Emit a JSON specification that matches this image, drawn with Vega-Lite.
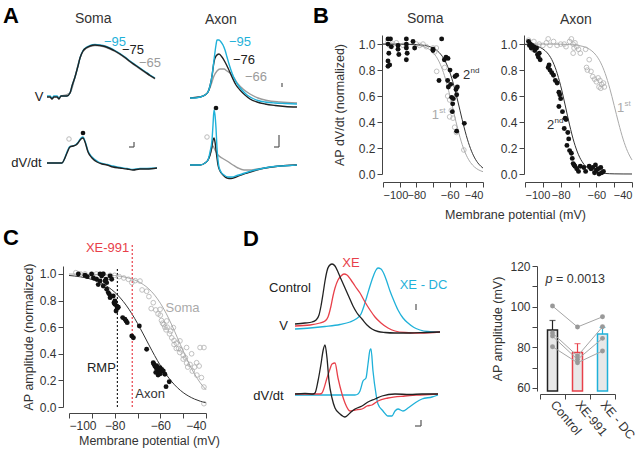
{
"$schema":"https://vega.github.io/schema/vega-lite/v6.json",
"autosize":{"type":"none"},
"padding":{"left":69,"top":35,"right":571,"bottom":417},
"background":"#ffffff",
"config":{
 "font":"Liberation Sans",
 "view":{"stroke":null},
 "axis":{"grid":false,"domainColor":"#444444","tickColor":"#444444","labelColor":"#333333","titleColor":"#333333","labelFontSize":12,"titleFontSize":12.5,"titleFontWeight":"normal","tickSize":5,"labelPadding":2,"labelOverlap":false},
 "title":{"color":"#333333","fontWeight":"normal","fontSize":14,"anchor":"start","frame":"group","baseline":"alphabetic"}
},
"datasets":{
 "aLetter":[{"t":-42,"v":85,"label":"A"}],
 "aSomaV":[
  {"s":"-65","t":16,"v":12},{"s":"-65","t":25,"v":15},{"s":"-65","t":30,"v":31},{"s":"-65","t":35,"v":50},{"s":"-65","t":41,"v":59.5},{"s":"-65","t":50,"v":62.5},{"s":"-65","t":60,"v":61},{"s":"-65","t":70,"v":56.5},{"s":"-65","t":80,"v":50},{"s":"-65","t":90,"v":42.5},{"s":"-65","t":100,"v":35.5},{"s":"-65","t":110,"v":29},
  {"s":"-95","t":2,"v":12},{"s":"-95","t":5,"v":12},{"s":"-95","t":7,"v":10},{"s":"-95","t":9,"v":12},{"s":"-95","t":12,"v":12},{"s":"-95","t":14,"v":10},{"s":"-95","t":16,"v":12},{"s":"-95","t":22,"v":12},{"s":"-95","t":25,"v":15},{"s":"-95","t":27,"v":22},{"s":"-95","t":30,"v":31},{"s":"-95","t":33,"v":42},{"s":"-95","t":35,"v":50},{"s":"-95","t":38,"v":57.5},{"s":"-95","t":41,"v":60.5},{"s":"-95","t":45,"v":62.5},{"s":"-95","t":50,"v":63.5},{"s":"-95","t":55,"v":63},{"s":"-95","t":60,"v":62},{"s":"-95","t":65,"v":60},{"s":"-95","t":70,"v":57.5},{"s":"-95","t":75,"v":54.5},{"s":"-95","t":80,"v":51},{"s":"-95","t":85,"v":47},{"s":"-95","t":90,"v":43.5},{"s":"-95","t":95,"v":40},{"s":"-95","t":100,"v":36.5},{"s":"-95","t":105,"v":33},{"s":"-95","t":110,"v":30},
  {"s":"-75","t":2,"v":11},{"s":"-75","t":5,"v":11},{"s":"-75","t":7,"v":9},{"s":"-75","t":9,"v":11},{"s":"-75","t":12,"v":11},{"s":"-75","t":14,"v":9},{"s":"-75","t":16,"v":12},{"s":"-75","t":22,"v":12},{"s":"-75","t":25,"v":15},{"s":"-75","t":27,"v":22},{"s":"-75","t":30,"v":31},{"s":"-75","t":33,"v":42},{"s":"-75","t":35,"v":50},{"s":"-75","t":38,"v":57},{"s":"-75","t":41,"v":60},{"s":"-75","t":45,"v":62},{"s":"-75","t":50,"v":63},{"s":"-75","t":55,"v":62.5},{"s":"-75","t":60,"v":61.5},{"s":"-75","t":65,"v":59.5},{"s":"-75","t":70,"v":57},{"s":"-75","t":75,"v":54},{"s":"-75","t":80,"v":50.5},{"s":"-75","t":85,"v":46.5},{"s":"-75","t":90,"v":43},{"s":"-75","t":95,"v":39.5},{"s":"-75","t":100,"v":36},{"s":"-75","t":105,"v":32.5},{"s":"-75","t":110,"v":29.5}
 ],
 "aSomaVLab":[{"t":70,"v":66,"label":"−95","s":"-95"},{"t":88,"v":58,"label":"−75","s":"-75"},{"t":105,"v":45,"label":"−65","s":"-65"},{"t":-6,"v":11,"label":"V","s":"k"}],
 "aSomaD":[
  {"s":"-95","t":2,"v":19},{"s":"-95","t":10,"v":19},{"s":"-95","t":17,"v":19},{"s":"-95","t":19,"v":22},{"s":"-95","t":22,"v":30},{"s":"-95","t":25,"v":35.5},{"s":"-95","t":28,"v":36},{"s":"-95","t":31,"v":37.5},{"s":"-95","t":33,"v":39.5},{"s":"-95","t":36,"v":44},{"s":"-95","t":38,"v":45},{"s":"-95","t":40,"v":41},{"s":"-95","t":43,"v":31},{"s":"-95","t":47,"v":25},{"s":"-95","t":52,"v":21},{"s":"-95","t":57,"v":18.5},{"s":"-95","t":62,"v":17.5},{"s":"-95","t":68,"v":16},{"s":"-95","t":75,"v":14.5},{"s":"-95","t":82,"v":13.5},{"s":"-95","t":88,"v":12.5},{"s":"-95","t":95,"v":13.5},{"s":"-95","t":102,"v":13.5},{"s":"-95","t":112,"v":14},
  {"s":"-75","t":2,"v":19},{"s":"-75","t":10,"v":19},{"s":"-75","t":17,"v":19},{"s":"-75","t":19,"v":22},{"s":"-75","t":22,"v":29},{"s":"-75","t":25,"v":35},{"s":"-75","t":28,"v":36},{"s":"-75","t":31,"v":37},{"s":"-75","t":33,"v":39},{"s":"-75","t":36,"v":43},{"s":"-75","t":38,"v":44},{"s":"-75","t":40,"v":40},{"s":"-75","t":43,"v":30},{"s":"-75","t":47,"v":24},{"s":"-75","t":52,"v":20},{"s":"-75","t":57,"v":18},{"s":"-75","t":62,"v":17},{"s":"-75","t":68,"v":15},{"s":"-75","t":75,"v":14},{"s":"-75","t":82,"v":13},{"s":"-75","t":88,"v":12},{"s":"-75","t":95,"v":13},{"s":"-75","t":102,"v":13},{"s":"-75","t":112,"v":14}
 ],
 "aSomaDLab":[{"t":-18.5,"v":19,"label":"dV/dt","s":"k"}],
 "aSomaMk":[{"t":24,"v":43,"k":"1st"},{"t":38,"v":49,"k":"2nd"}],
 "aSomaBar":[{"t1":89,"t2":89,"v1":35,"v2":40},{"t1":84,"t2":89,"v1":35,"v2":35}],
 "aAxonV":[
  {"s":"-66","t":5,"v":10},{"s":"-66","t":15,"v":11},{"s":"-66","t":20,"v":13},{"s":"-66","t":23,"v":16},{"s":"-66","t":26,"v":23},{"s":"-66","t":29,"v":32},{"s":"-66","t":32,"v":37},{"s":"-66","t":35,"v":39},{"s":"-66","t":39,"v":39},{"s":"-66","t":42,"v":37},{"s":"-66","t":45,"v":35},{"s":"-66","t":49,"v":30},{"s":"-66","t":53,"v":24},{"s":"-66","t":58,"v":19},{"s":"-66","t":65,"v":14},{"s":"-66","t":73,"v":10},{"s":"-66","t":82,"v":7.5},{"s":"-66","t":95,"v":6},{"s":"-66","t":112,"v":5},
  {"s":"-76","t":5,"v":10},{"s":"-76","t":15,"v":11},{"s":"-76","t":20,"v":13},{"s":"-76","t":23,"v":16},{"s":"-76","t":25,"v":22},{"s":"-76","t":27,"v":32},{"s":"-76","t":29,"v":46},{"s":"-76","t":31,"v":52},{"s":"-76","t":34,"v":54},{"s":"-76","t":37,"v":51},{"s":"-76","t":40,"v":46},{"s":"-76","t":43,"v":40},{"s":"-76","t":47,"v":31},{"s":"-76","t":51,"v":23},{"s":"-76","t":55,"v":18},{"s":"-76","t":60,"v":13},{"s":"-76","t":65,"v":9},{"s":"-76","t":72,"v":6},{"s":"-76","t":80,"v":4},{"s":"-76","t":90,"v":2.5},{"s":"-76","t":100,"v":1.5},{"s":"-76","t":112,"v":1},
  {"s":"-95","t":5,"v":10},{"s":"-95","t":10,"v":10},{"s":"-95","t":15,"v":11},{"s":"-95","t":20,"v":13},{"s":"-95","t":23,"v":16},{"s":"-95","t":25,"v":22},{"s":"-95","t":27,"v":32},{"s":"-95","t":29,"v":48},{"s":"-95","t":31,"v":63},{"s":"-95","t":32,"v":68},{"s":"-95","t":34,"v":68},{"s":"-95","t":36,"v":66},{"s":"-95","t":38,"v":63},{"s":"-95","t":40,"v":58},{"s":"-95","t":42,"v":51},{"s":"-95","t":44,"v":44},{"s":"-95","t":47,"v":35},{"s":"-95","t":50,"v":28},{"s":"-95","t":53,"v":23},{"s":"-95","t":57,"v":18},{"s":"-95","t":62,"v":13},{"s":"-95","t":67,"v":10},{"s":"-95","t":73,"v":7.5},{"s":"-95","t":80,"v":6},{"s":"-95","t":90,"v":5},{"s":"-95","t":100,"v":4.5},{"s":"-95","t":112,"v":4}
 ],
 "aAxonVLab":[{"t":55,"v":66,"label":"−95","s":"-95"},{"t":59,"v":48,"label":"−76","s":"-76"},{"t":71,"v":31,"label":"−66","s":"-66"}],
 "aAxonVBar":[{"t1":97,"t2":97,"v1":21,"v2":25}],
 "aAxonD":[
  {"s":"-66","t":5,"v":17},{"s":"-66","t":15,"v":17},{"s":"-66","t":20,"v":19},{"s":"-66","t":23,"v":22},{"s":"-66","t":25,"v":27},{"s":"-66","t":27,"v":34},{"s":"-66","t":28,"v":36},{"s":"-66","t":30,"v":32},{"s":"-66","t":33,"v":27},{"s":"-66","t":37,"v":24},{"s":"-66","t":42,"v":21},{"s":"-66","t":48,"v":17},{"s":"-66","t":53,"v":14},{"s":"-66","t":59,"v":12},{"s":"-66","t":65,"v":12},{"s":"-66","t":72,"v":13},{"s":"-66","t":80,"v":14},{"s":"-66","t":95,"v":16},{"s":"-66","t":112,"v":17},
  {"s":"-76","t":5,"v":17},{"s":"-76","t":15,"v":17},{"s":"-76","t":20,"v":19},{"s":"-76","t":23,"v":22},{"s":"-76","t":25,"v":27},{"s":"-76","t":27,"v":36},{"s":"-76","t":28,"v":42},{"s":"-76","t":29,"v":44},{"s":"-76","t":30,"v":40},{"s":"-76","t":31,"v":32},{"s":"-76","t":32,"v":24},{"s":"-76","t":33,"v":17},{"s":"-76","t":35,"v":11},{"s":"-76","t":38,"v":7},{"s":"-76","t":42,"v":4},{"s":"-76","t":46,"v":3.5},{"s":"-76","t":51,"v":5},{"s":"-76","t":56,"v":7},{"s":"-76","t":62,"v":9},{"s":"-76","t":70,"v":11.5},{"s":"-76","t":80,"v":14},{"s":"-76","t":95,"v":16},{"s":"-76","t":112,"v":17},
  {"s":"-95","t":5,"v":17},{"s":"-95","t":15,"v":17},{"s":"-95","t":20,"v":19},{"s":"-95","t":23,"v":22},{"s":"-95","t":25,"v":30},{"s":"-95","t":27,"v":42},{"s":"-95","t":28,"v":57},{"s":"-95","t":29,"v":72},{"s":"-95","t":30,"v":67},{"s":"-95","t":31,"v":54},{"s":"-95","t":32,"v":34},{"s":"-95","t":33,"v":22},{"s":"-95","t":34,"v":15},{"s":"-95","t":36,"v":10},{"s":"-95","t":39,"v":7},{"s":"-95","t":43,"v":5},{"s":"-95","t":47,"v":5},{"s":"-95","t":52,"v":6.5},{"s":"-95","t":57,"v":8},{"s":"-95","t":63,"v":10},{"s":"-95","t":70,"v":12},{"s":"-95","t":77,"v":13.5},{"s":"-95","t":85,"v":15},{"s":"-95","t":95,"v":16},{"s":"-95","t":105,"v":16.5},{"s":"-95","t":112,"v":17}
 ],
 "aAxonMk":[{"t":22,"v":45,"k":"1st"},{"t":31,"v":74,"k":"2nd"}],
 "aAxonDBar":[{"t1":94,"t2":94,"v1":35,"v2":47},{"t1":89,"t2":94,"v1":35,"v2":35}],
 "bSomaFit":[
  {"s":"1st","mv":-100,"r":1.0},{"s":"1st","mv":-95,"r":0.9997},{"s":"1st","mv":-90,"r":0.9992},{"s":"1st","mv":-85,"r":0.9975},{"s":"1st","mv":-80,"r":0.9925},{"s":"1st","mv":-77.5,"r":0.987},{"s":"1st","mv":-75,"r":0.9777},{"s":"1st","mv":-72.5,"r":0.9617},{"s":"1st","mv":-70,"r":0.935},{"s":"1st","mv":-67.5,"r":0.892},{"s":"1st","mv":-65,"r":0.8258},{"s":"1st","mv":-62.5,"r":0.7311},{"s":"1st","mv":-60,"r":0.6093},{"s":"1st","mv":-57.5,"r":0.4722},{"s":"1st","mv":-55,"r":0.3392},{"s":"1st","mv":-52.5,"r":0.2275},{"s":"1st","mv":-50,"r":0.1446},{"s":"1st","mv":-47.5,"r":0.0884},{"s":"1st","mv":-45,"r":0.0527},{"s":"1st","mv":-42.5,"r":0.0309},{"s":"1st","mv":-40,"r":0.018},
  {"s":"2nd","mv":-100,"r":1.0},{"s":"2nd","mv":-95,"r":0.9999},{"s":"2nd","mv":-90,"r":0.9996},{"s":"2nd","mv":-85,"r":0.9988},{"s":"2nd","mv":-80,"r":0.9965},{"s":"2nd","mv":-77.5,"r":0.994},{"s":"2nd","mv":-75,"r":0.9897},{"s":"2nd","mv":-72.5,"r":0.9824},{"s":"2nd","mv":-70,"r":0.97},{"s":"2nd","mv":-67.5,"r":0.9496},{"s":"2nd","mv":-65,"r":0.916},{"s":"2nd","mv":-62.5,"r":0.8639},{"s":"2nd","mv":-60,"r":0.7866},{"s":"2nd","mv":-57.5,"r":0.6815},{"s":"2nd","mv":-55,"r":0.554},{"s":"2nd","mv":-52.5,"r":0.419},{"s":"2nd","mv":-50,"r":0.2953},{"s":"2nd","mv":-47.5,"r":0.1958},{"s":"2nd","mv":-45,"r":0.1238},{"s":"2nd","mv":-42.5,"r":0.0759},{"s":"2nd","mv":-40,"r":0.0455}
 ],
 "bSomaPts":[
  {"k":"1st","mv":-97,"r":1.02},{"k":"1st","mv":-96,"r":0.99},{"k":"1st","mv":-94,"r":1.0},{"k":"1st","mv":-92,"r":1.01},{"k":"1st","mv":-88,"r":0.99},{"k":"1st","mv":-86,"r":0.98},{"k":"1st","mv":-80,"r":1.0},{"k":"1st","mv":-78,"r":0.99},{"k":"1st","mv":-76,"r":1.0},{"k":"1st","mv":-74,"r":0.98},{"k":"1st","mv":-70,"r":0.97},{"k":"1st","mv":-69,"r":0.94},{"k":"1st","mv":-68,"r":0.97},{"k":"1st","mv":-67.8,"r":0.79},{"k":"1st","mv":-63,"r":0.82},{"k":"1st","mv":-61.2,"r":0.6},{"k":"1st","mv":-60,"r":0.57},{"k":"1st","mv":-59,"r":0.49},{"k":"1st","mv":-60,"r":0.44},{"k":"1st","mv":-58,"r":0.43},{"k":"1st","mv":-57,"r":0.36},{"k":"1st","mv":-56,"r":0.32},{"k":"1st","mv":-51.5,"r":0.185},
  {"k":"2nd","mv":-97,"r":1.04},{"k":"2nd","mv":-97,"r":1.0},{"k":"2nd","mv":-96.5,"r":0.93},{"k":"2nd","mv":-97,"r":0.87},{"k":"2nd","mv":-97,"r":0.83},{"k":"2nd","mv":-96,"r":0.84},{"k":"2nd","mv":-95.5,"r":1.04},{"k":"2nd","mv":-95,"r":0.98},{"k":"2nd","mv":-91,"r":0.99},{"k":"2nd","mv":-91,"r":0.96},{"k":"2nd","mv":-90.5,"r":0.92},{"k":"2nd","mv":-86,"r":1.04},{"k":"2nd","mv":-86,"r":1.0},{"k":"2nd","mv":-86,"r":0.97},{"k":"2nd","mv":-85.5,"r":0.93},{"k":"2nd","mv":-86,"r":0.88},{"k":"2nd","mv":-82,"r":1.02},{"k":"2nd","mv":-81,"r":0.97},{"k":"2nd","mv":-70,"r":0.96},{"k":"2nd","mv":-70,"r":0.95},{"k":"2nd","mv":-64.8,"r":1.04},{"k":"2nd","mv":-66.4,"r":0.72},{"k":"2nd","mv":-63.2,"r":0.88},{"k":"2nd","mv":-62.2,"r":0.9},{"k":"2nd","mv":-61,"r":0.89},{"k":"2nd","mv":-61.2,"r":0.72},{"k":"2nd","mv":-59.8,"r":0.8},{"k":"2nd","mv":-60.8,"r":0.67},{"k":"2nd","mv":-59.4,"r":0.69},{"k":"2nd","mv":-58.8,"r":0.59},{"k":"2nd","mv":-57.8,"r":0.58},{"k":"2nd","mv":-58.4,"r":0.48},{"k":"2nd","mv":-58.2,"r":0.54},{"k":"2nd","mv":-56.8,"r":0.75},{"k":"2nd","mv":-55.8,"r":0.76},{"k":"2nd","mv":-56.2,"r":0.65},{"k":"2nd","mv":-55.8,"r":0.61},{"k":"2nd","mv":-55.4,"r":0.67},{"k":"2nd","mv":-55.8,"r":0.33},{"k":"2nd","mv":-51.2,"r":0.39}
 ],
 "bSomaLab":[{"mv":-52,"r":0.76,"n":"2","sup":"nd","s":"2nd"},{"mv":-70.8,"r":0.454,"n":"1","sup":"st","s":"1st"}],
 "bLetter":[{"mv":-142,"r":1.1615,"label":"B"}],
 "bAxonFit":[
  {"s":"1st","mv":-100,"r":1.0},{"s":"1st","mv":-90,"r":0.9999},{"s":"1st","mv":-85,"r":0.9996},{"s":"1st","mv":-80,"r":0.9989},{"s":"1st","mv":-77.5,"r":0.998},{"s":"1st","mv":-75,"r":0.9966},{"s":"1st","mv":-72.5,"r":0.994},{"s":"1st","mv":-70,"r":0.9896},{"s":"1st","mv":-67.5,"r":0.982},{"s":"1st","mv":-65,"r":0.9691},{"s":"1st","mv":-62.5,"r":0.9473},{"s":"1st","mv":-60,"r":0.9116},{"s":"1st","mv":-57.5,"r":0.8554},{"s":"1st","mv":-55,"r":0.7725},{"s":"1st","mv":-52.5,"r":0.6608},{"s":"1st","mv":-50,"r":0.5278},{"s":"1st","mv":-47.5,"r":0.3907},{"s":"1st","mv":-45,"r":0.2689},{"s":"1st","mv":-42.5,"r":0.1742},{"s":"1st","mv":-40,"r":0.108},
  {"s":"2nd","mv":-100,"r":0.9968},{"s":"2nd","mv":-97.5,"r":0.9941},{"s":"2nd","mv":-95,"r":0.989},{"s":"2nd","mv":-92.5,"r":0.9797},{"s":"2nd","mv":-90,"r":0.9627},{"s":"2nd","mv":-87.5,"r":0.9324},{"s":"2nd","mv":-85,"r":0.8808},{"s":"2nd","mv":-82.5,"r":0.7982},{"s":"2nd","mv":-80,"r":0.6792},{"s":"2nd","mv":-77.5,"r":0.5312},{"s":"2nd","mv":-75,"r":0.3775},{"s":"2nd","mv":-72.5,"r":0.2451},{"s":"2nd","mv":-70,"r":0.148},{"s":"2nd","mv":-67.5,"r":0.085},{"s":"2nd","mv":-65,"r":0.0474},{"s":"2nd","mv":-62.5,"r":0.026},{"s":"2nd","mv":-60,"r":0.0141},{"s":"2nd","mv":-55,"r":0.0041},{"s":"2nd","mv":-50,"r":0.0012},{"s":"2nd","mv":-45,"r":0.0003},{"s":"2nd","mv":-40,"r":0.0001}
 ],
 "bAxonPts":[
  {"k":"1st","mv":-98,"r":1.03},{"k":"1st","mv":-97,"r":0.99},{"k":"1st","mv":-95.5,"r":0.96},{"k":"1st","mv":-95,"r":1.02},{"k":"1st","mv":-92,"r":1.0},{"k":"1st","mv":-90,"r":0.99},{"k":"1st","mv":-88,"r":1.01},{"k":"1st","mv":-87,"r":1.04},{"k":"1st","mv":-86,"r":0.99},{"k":"1st","mv":-84,"r":1.02},{"k":"1st","mv":-82,"r":0.99},{"k":"1st","mv":-80,"r":1.0},{"k":"1st","mv":-78,"r":1.0},{"k":"1st","mv":-77,"r":0.98},{"k":"1st","mv":-75,"r":1.02},{"k":"1st","mv":-74,"r":1.04},{"k":"1st","mv":-73,"r":1.0},{"k":"1st","mv":-72.5,"r":0.97},{"k":"1st","mv":-72,"r":1.01},{"k":"1st","mv":-71,"r":0.98},{"k":"1st","mv":-70,"r":0.96},{"k":"1st","mv":-69,"r":0.93},{"k":"1st","mv":-73,"r":0.93},{"k":"1st","mv":-66,"r":0.96},{"k":"1st","mv":-64,"r":0.88},{"k":"1st","mv":-65.5,"r":0.82},{"k":"1st","mv":-65,"r":0.8},{"k":"1st","mv":-63,"r":0.79},{"k":"1st","mv":-62,"r":0.75},{"k":"1st","mv":-61,"r":0.73},{"k":"1st","mv":-60,"r":0.71},{"k":"1st","mv":-59,"r":0.74},{"k":"1st","mv":-58,"r":0.72},{"k":"1st","mv":-57,"r":0.69},{"k":"1st","mv":-58.5,"r":0.67},{"k":"1st","mv":-57.5,"r":0.66},{"k":"1st","mv":-56,"r":0.7},{"k":"1st","mv":-55.5,"r":0.67},
  {"k":"2nd","mv":-98,"r":1.02},{"k":"2nd","mv":-97.5,"r":0.99},{"k":"2nd","mv":-97,"r":1.0},{"k":"2nd","mv":-96.5,"r":0.97},{"k":"2nd","mv":-96,"r":0.99},{"k":"2nd","mv":-95,"r":0.98},{"k":"2nd","mv":-94.5,"r":0.95},{"k":"2nd","mv":-93.5,"r":0.97},{"k":"2nd","mv":-93,"r":0.92},{"k":"2nd","mv":-92,"r":0.93},{"k":"2nd","mv":-91.5,"r":0.88},{"k":"2nd","mv":-92.5,"r":0.9},{"k":"2nd","mv":-87,"r":0.82},{"k":"2nd","mv":-86.5,"r":0.84},{"k":"2nd","mv":-86,"r":0.8},{"k":"2nd","mv":-85,"r":0.78},{"k":"2nd","mv":-84,"r":0.76},{"k":"2nd","mv":-83,"r":0.72},{"k":"2nd","mv":-82,"r":0.7},{"k":"2nd","mv":-81,"r":0.63},{"k":"2nd","mv":-80.5,"r":0.61},{"k":"2nd","mv":-80,"r":0.58},{"k":"2nd","mv":-81,"r":0.52},{"k":"2nd","mv":-79,"r":0.48},{"k":"2nd","mv":-77.5,"r":0.43},{"k":"2nd","mv":-77,"r":0.42},{"k":"2nd","mv":-78,"r":0.35},{"k":"2nd","mv":-76,"r":0.32},{"k":"2nd","mv":-75.5,"r":0.27},{"k":"2nd","mv":-76.5,"r":0.22},{"k":"2nd","mv":-75,"r":0.18},{"k":"2nd","mv":-74,"r":0.16},{"k":"2nd","mv":-73.5,"r":0.12},{"k":"2nd","mv":-73,"r":0.08},{"k":"2nd","mv":-72.5,"r":0.07},{"k":"2nd","mv":-72,"r":0.06},{"k":"2nd","mv":-71,"r":0.04},{"k":"2nd","mv":-70,"r":0.02},{"k":"2nd","mv":-69,"r":0.06},{"k":"2nd","mv":-67,"r":0.05},{"k":"2nd","mv":-66,"r":0.02},{"k":"2nd","mv":-64,"r":0.06},{"k":"2nd","mv":-63,"r":0.04},{"k":"2nd","mv":-62,"r":0.05},{"k":"2nd","mv":-61,"r":0.01},{"k":"2nd","mv":-60,"r":0.03},{"k":"2nd","mv":-59,"r":0.04},{"k":"2nd","mv":-58.5,"r":0.0},{"k":"2nd","mv":-57,"r":0.01},{"k":"2nd","mv":-56,"r":0.02},{"k":"2nd","mv":-57.5,"r":0.05},{"k":"2nd","mv":-60.5,"r":0.07}
 ],
 "bAxonLab":[{"mv":-87.7,"r":0.377,"n":"2","sup":"nd","s":"2nd"},{"mv":-48.4,"r":0.508,"n":"1","sup":"st","s":"1st"}],
 "cFit":[
  {"s":"Soma","mv":-100,"r":0.9995},{"s":"Soma","mv":-95,"r":0.9989},{"s":"Soma","mv":-90,"r":0.9976},{"s":"Soma","mv":-85,"r":0.9947},{"s":"Soma","mv":-80,"r":0.9884},{"s":"Soma","mv":-77.5,"r":0.9828},{"s":"Soma","mv":-75,"r":0.9747},{"s":"Soma","mv":-72.5,"r":0.9628},{"s":"Soma","mv":-70,"r":0.9457},{"s":"Soma","mv":-67.5,"r":0.9213},{"s":"Soma","mv":-65,"r":0.8873},{"s":"Soma","mv":-62.5,"r":0.8411},{"s":"Soma","mv":-60,"r":0.7807},{"s":"Soma","mv":-57.5,"r":0.7054},{"s":"Soma","mv":-55,"r":0.6168},{"s":"Soma","mv":-52.5,"r":0.5198},{"s":"Soma","mv":-50,"r":0.4214},{"s":"Soma","mv":-47.5,"r":0.3287},{"s":"Soma","mv":-45,"r":0.2477},{"s":"Soma","mv":-42.5,"r":0.1812},{"s":"Soma","mv":-40,"r":0.1296},
  {"s":"Axon","mv":-100,"r":0.9887},{"s":"Axon","mv":-95,"r":0.9785},{"s":"Axon","mv":-90,"r":0.9593},{"s":"Axon","mv":-87.5,"r":0.9442},{"s":"Axon","mv":-85,"r":0.9241},{"s":"Axon","mv":-82.5,"r":0.8976},{"s":"Axon","mv":-80,"r":0.8632},{"s":"Axon","mv":-77.5,"r":0.8195},{"s":"Axon","mv":-75,"r":0.7657},{"s":"Axon","mv":-72.5,"r":0.7016},{"s":"Axon","mv":-70,"r":0.6286},{"s":"Axon","mv":-67.5,"r":0.5491},{"s":"Axon","mv":-65,"r":0.467},{"s":"Axon","mv":-62.5,"r":0.3868},{"s":"Axon","mv":-60,"r":0.3123},{"s":"Axon","mv":-57.5,"r":0.2463},{"s":"Axon","mv":-55,"r":0.1905},{"s":"Axon","mv":-52.5,"r":0.1448},{"s":"Axon","mv":-50,"r":0.1086},{"s":"Axon","mv":-47.5,"r":0.0807},{"s":"Axon","mv":-45,"r":0.0594},{"s":"Axon","mv":-42.5,"r":0.0434},{"s":"Axon","mv":-40,"r":0.0316}
 ],
 "cPts":[
  {"k":"Soma","mv":-97,"r":1.01},{"k":"Soma","mv":-95,"r":1.0},{"k":"Soma","mv":-93,"r":1.0},{"k":"Soma","mv":-90,"r":0.99},{"k":"Soma","mv":-88,"r":1.0},{"k":"Soma","mv":-85,"r":1.0},{"k":"Soma","mv":-82,"r":0.99},{"k":"Soma","mv":-80,"r":0.99},{"k":"Soma","mv":-78,"r":0.98},{"k":"Soma","mv":-76,"r":0.97},{"k":"Soma","mv":-74,"r":0.96},{"k":"Soma","mv":-72.5,"r":0.935},{"k":"Soma","mv":-71,"r":0.95},{"k":"Soma","mv":-68.9,"r":0.947},{"k":"Soma","mv":-68,"r":0.88},{"k":"Soma","mv":-66,"r":0.87},{"k":"Soma","mv":-65,"r":0.83},{"k":"Soma","mv":-64,"r":0.74},{"k":"Soma","mv":-63.1,"r":0.784},{"k":"Soma","mv":-62,"r":0.73},{"k":"Soma","mv":-61,"r":0.7},{"k":"Soma","mv":-60.1,"r":0.734},{"k":"Soma","mv":-60,"r":0.69},{"k":"Soma","mv":-59.5,"r":0.65},{"k":"Soma","mv":-59,"r":0.63},{"k":"Soma","mv":-58.5,"r":0.62},{"k":"Soma","mv":-58,"r":0.6},{"k":"Soma","mv":-57.2,"r":0.647},{"k":"Soma","mv":-57.5,"r":0.58},{"k":"Soma","mv":-57,"r":0.6},{"k":"Soma","mv":-56,"r":0.55},{"k":"Soma","mv":-55.5,"r":0.57},{"k":"Soma","mv":-55,"r":0.52},{"k":"Soma","mv":-54.3,"r":0.597},{"k":"Soma","mv":-54,"r":0.5},{"k":"Soma","mv":-54,"r":0.47},{"k":"Soma","mv":-53,"r":0.48},{"k":"Soma","mv":-53,"r":0.44},{"k":"Soma","mv":-52,"r":0.44},{"k":"Soma","mv":-51.4,"r":0.497},{"k":"Soma","mv":-51.5,"r":0.41},{"k":"Soma","mv":-51,"r":0.43},{"k":"Soma","mv":-50,"r":0.39},{"k":"Soma","mv":-50,"r":0.36},{"k":"Soma","mv":-49,"r":0.37},{"k":"Soma","mv":-48.5,"r":0.447},{"k":"Soma","mv":-48.5,"r":0.33},{"k":"Soma","mv":-48,"r":0.3},{"k":"Soma","mv":-47,"r":0.32},{"k":"Soma","mv":-46.3,"r":0.4},{"k":"Soma","mv":-46,"r":0.27},{"k":"Soma","mv":-45,"r":0.3},{"k":"Soma","mv":-44.1,"r":0.333},{"k":"Soma","mv":-44,"r":0.24},{"k":"Soma","mv":-42.6,"r":0.447},{"k":"Soma","mv":-40.9,"r":0.447},{"k":"Soma","mv":-43,"r":0.308},{"k":"Soma","mv":-42,"r":0.221},{"k":"Soma","mv":-40.9,"r":0.15},{"k":"Soma","mv":-40.9,"r":0.025},
  {"k":"Axon","mv":-95.9,"r":1.0},{"k":"Axon","mv":-93,"r":0.99},{"k":"Axon","mv":-92,"r":0.98},{"k":"Axon","mv":-90.1,"r":1.0},{"k":"Axon","mv":-89.3,"r":0.97},{"k":"Axon","mv":-87.9,"r":0.96},{"k":"Axon","mv":-86.4,"r":1.0},{"k":"Axon","mv":-85.7,"r":0.985},{"k":"Axon","mv":-85,"r":1.0},{"k":"Axon","mv":-83.8,"r":0.96},{"k":"Axon","mv":-83.5,"r":0.935},{"k":"Axon","mv":-87.2,"r":0.92},{"k":"Axon","mv":-86.4,"r":0.947},{"k":"Axon","mv":-85,"r":0.91},{"k":"Axon","mv":-83.5,"r":0.885},{"k":"Axon","mv":-82.8,"r":0.86},{"k":"Axon","mv":-82.3,"r":0.847},{"k":"Axon","mv":-82,"r":0.822},{"k":"Axon","mv":-80.6,"r":0.835},{"k":"Axon","mv":-80.3,"r":0.784},{"k":"Axon","mv":-79.9,"r":0.772},{"k":"Axon","mv":-79.1,"r":0.759},{"k":"Axon","mv":-78.8,"r":0.742},{"k":"Axon","mv":-79.9,"r":0.797},{"k":"Axon","mv":-78.4,"r":0.75},{"k":"Axon","mv":-84.2,"r":0.947},{"k":"Axon","mv":-82,"r":0.985},{"k":"Axon","mv":-81.3,"r":0.96},{"k":"Axon","mv":-79.4,"r":0.722},{"k":"Axon","mv":-76.5,"r":0.672},{"k":"Axon","mv":-75,"r":0.647},{"k":"Axon","mv":-74.5,"r":0.634},{"k":"Axon","mv":-75.5,"r":0.66},{"k":"Axon","mv":-72.5,"r":0.534},{"k":"Axon","mv":-71.8,"r":0.521},{"k":"Axon","mv":-69.2,"r":0.609},{"k":"Axon","mv":-66,"r":0.434},{"k":"Axon","mv":-63.1,"r":0.333},{"k":"Axon","mv":-62.8,"r":0.321},{"k":"Axon","mv":-62.4,"r":0.308},{"k":"Axon","mv":-61.9,"r":0.296},{"k":"Axon","mv":-61.6,"r":0.31},{"k":"Axon","mv":-61.3,"r":0.283},{"k":"Axon","mv":-60.9,"r":0.271},{"k":"Axon","mv":-60.4,"r":0.258},{"k":"Axon","mv":-60.1,"r":0.296},{"k":"Axon","mv":-59.4,"r":0.283},{"k":"Axon","mv":-58.7,"r":0.271},{"k":"Axon","mv":-58,"r":0.246},{"k":"Axon","mv":-62,"r":0.26},{"k":"Axon","mv":-61,"r":0.24},{"k":"Axon","mv":-60,"r":0.25},{"k":"Axon","mv":-57.5,"r":0.153},{"k":"Axon","mv":-56.1,"r":0.19}
 ],
 "cLines":[{"mv":-78.8,"y1":0,"y2":1.04,"s":"RMP"},{"mv":-72.3,"y1":0,"y2":1.23,"s":"XE-991"}],
 "cLabs":[{"mv":-83.1,"r":1.195,"label":"XE-991","s":"XE-991"},{"mv":-85.8,"r":0.29,"label":"RMP","s":"RMP"},{"mv":-50.3,"r":0.744,"label":"Soma","s":"Soma"},{"mv":-64.5,"r":0.098,"label":"Axon","s":"Axon"}],
 "dV":[
  {"s":"XE - DC","t":5,"v":7},{"s":"XE - DC","t":20,"v":8},{"s":"XE - DC","t":35,"v":9.5},{"s":"XE - DC","t":50,"v":11.5},{"s":"XE - DC","t":60,"v":14},{"s":"XE - DC","t":66,"v":17},{"s":"XE - DC","t":71,"v":22},{"s":"XE - DC","t":74,"v":30},{"s":"XE - DC","t":77,"v":40},{"s":"XE - DC","t":80,"v":50},{"s":"XE - DC","t":83,"v":59},{"s":"XE - DC","t":86,"v":66},{"s":"XE - DC","t":88,"v":68},{"s":"XE - DC","t":91,"v":67},{"s":"XE - DC","t":94,"v":62},{"s":"XE - DC","t":97,"v":54},{"s":"XE - DC","t":100,"v":45},{"s":"XE - DC","t":104,"v":35},{"s":"XE - DC","t":108,"v":26},{"s":"XE - DC","t":113,"v":18},{"s":"XE - DC","t":118,"v":13},{"s":"XE - DC","t":124,"v":8.5},{"s":"XE - DC","t":130,"v":6},{"s":"XE - DC","t":138,"v":4.5},{"s":"XE - DC","t":150,"v":4},
  {"s":"XE","t":5,"v":10},{"s":"XE","t":20,"v":11},{"s":"XE","t":30,"v":13},{"s":"XE","t":35,"v":15},{"s":"XE","t":38,"v":19},{"s":"XE","t":41,"v":30},{"s":"XE","t":43,"v":40},{"s":"XE","t":45,"v":48},{"s":"XE","t":48,"v":56},{"s":"XE","t":51,"v":60},{"s":"XE","t":54,"v":62},{"s":"XE","t":57,"v":61},{"s":"XE","t":61,"v":56},{"s":"XE","t":65,"v":50},{"s":"XE","t":70,"v":43},{"s":"XE","t":75,"v":34},{"s":"XE","t":80,"v":26},{"s":"XE","t":85,"v":19},{"s":"XE","t":91,"v":13},{"s":"XE","t":98,"v":8},{"s":"XE","t":105,"v":5},{"s":"XE","t":115,"v":3.5},{"s":"XE","t":130,"v":3},{"s":"XE","t":150,"v":4},
  {"s":"Control","t":5,"v":12},{"s":"Control","t":15,"v":13},{"s":"Control","t":22,"v":14},{"s":"Control","t":26,"v":16},{"s":"Control","t":29,"v":21},{"s":"Control","t":31,"v":30},{"s":"Control","t":33,"v":42},{"s":"Control","t":35,"v":55},{"s":"Control","t":37,"v":65},{"s":"Control","t":39,"v":70},{"s":"Control","t":42,"v":72},{"s":"Control","t":45,"v":70},{"s":"Control","t":48,"v":64},{"s":"Control","t":51,"v":57},{"s":"Control","t":55,"v":48},{"s":"Control","t":59,"v":39},{"s":"Control","t":63,"v":30},{"s":"Control","t":67,"v":23},{"s":"Control","t":72,"v":17},{"s":"Control","t":77,"v":11},{"s":"Control","t":82,"v":7},{"s":"Control","t":88,"v":4.5},{"s":"Control","t":95,"v":3.5},{"s":"Control","t":105,"v":3},{"s":"Control","t":120,"v":3},{"s":"Control","t":135,"v":3.5},{"s":"Control","t":150,"v":4}
 ],
 "dVLab":[{"t":0,"v":48,"label":"Control","s":"k"},{"t":-6.5,"v":10,"label":"V","s":"k"},{"t":61,"v":73,"label":"XE","s":"XE"},{"t":133.5,"v":51,"label":"XE - DC","s":"XE - DC"}],
 "dVBar":[{"t1":126,"t2":126,"v1":26,"v2":32}],
 "dD":[
  {"s":"XE - DC","t":5,"v":36},{"s":"XE - DC","t":40,"v":36},{"s":"XE - DC","t":65,"v":36},{"s":"XE - DC","t":68,"v":37},{"s":"XE - DC","t":70,"v":40},{"s":"XE - DC","t":73,"v":50},{"s":"XE - DC","t":76,"v":53},{"s":"XE - DC","t":78,"v":67},{"s":"XE - DC","t":80,"v":81},{"s":"XE - DC","t":81,"v":82},{"s":"XE - DC","t":83,"v":60},{"s":"XE - DC","t":86,"v":37},{"s":"XE - DC","t":88,"v":27},{"s":"XE - DC","t":93,"v":20},{"s":"XE - DC","t":98,"v":15},{"s":"XE - DC","t":102,"v":15},{"s":"XE - DC","t":105,"v":20},{"s":"XE - DC","t":108,"v":22},{"s":"XE - DC","t":113,"v":20},{"s":"XE - DC","t":118,"v":23},{"s":"XE - DC","t":125,"v":28},{"s":"XE - DC","t":132,"v":32},{"s":"XE - DC","t":142,"v":34},{"s":"XE - DC","t":148,"v":36},
  {"s":"XE","t":5,"v":37},{"s":"XE","t":30,"v":37},{"s":"XE","t":32,"v":38},{"s":"XE","t":33,"v":40},{"s":"XE","t":37,"v":53},{"s":"XE","t":40,"v":62},{"s":"XE","t":42,"v":67},{"s":"XE","t":45,"v":68},{"s":"XE","t":48,"v":53},{"s":"XE","t":52,"v":37},{"s":"XE","t":55,"v":28},{"s":"XE","t":60,"v":20},{"s":"XE","t":65,"v":21},{"s":"XE","t":72,"v":22},{"s":"XE","t":77,"v":25},{"s":"XE","t":82,"v":26},{"s":"XE","t":88,"v":30},{"s":"XE","t":98,"v":33},{"s":"XE","t":115,"v":35},{"s":"XE","t":130,"v":36},{"s":"XE","t":148,"v":37},
  {"s":"Control","t":5,"v":37},{"s":"Control","t":15,"v":37.5},{"s":"Control","t":23,"v":37},{"s":"Control","t":25,"v":38},{"s":"Control","t":28,"v":50},{"s":"Control","t":31,"v":67},{"s":"Control","t":33,"v":80},{"s":"Control","t":35,"v":86},{"s":"Control","t":37,"v":73},{"s":"Control","t":39,"v":50},{"s":"Control","t":42,"v":33},{"s":"Control","t":45,"v":23},{"s":"Control","t":50,"v":17},{"s":"Control","t":55,"v":14},{"s":"Control","t":60,"v":18},{"s":"Control","t":65,"v":22},{"s":"Control","t":72,"v":25},{"s":"Control","t":78,"v":29},{"s":"Control","t":85,"v":32},{"s":"Control","t":92,"v":35},{"s":"Control","t":105,"v":37},{"s":"Control","t":120,"v":36.5},{"s":"Control","t":132,"v":37},{"s":"Control","t":148,"v":37}
 ],
 "dDLab":[{"t":-21.5,"v":35,"label":"dV/dt","s":"k"}],
 "dDBar":[{"t1":131,"t2":131,"v1":5,"v2":11},{"t1":125,"t2":131,"v1":5,"v2":5}],
 "bars":[{"cond":"Control","amp":88.5,"err":93.2},{"cond":"XE-991","amp":77.5,"err":81.8},{"cond":"XE - DC","amp":86.5,"err":89.8}],
 "cells":[
  {"cell":"c1","i":0,"cond":"Control","amp":100.3},{"cell":"c1","i":1,"cond":"XE-991","amp":90},{"cell":"c1","i":2,"cond":"XE - DC","amp":95},
  {"cell":"c2","i":0,"cond":"Control","amp":87},{"cell":"c2","i":1,"cond":"XE-991","amp":75.7},{"cell":"c2","i":2,"cond":"XE - DC","amp":90.1},
  {"cell":"c3","i":0,"cond":"Control","amp":85.5},{"cell":"c3","i":1,"cond":"XE-991","amp":74},{"cell":"c3","i":2,"cond":"XE - DC","amp":84.4},
  {"cell":"c4","i":0,"cond":"Control","amp":80.3},{"cell":"c4","i":1,"cond":"XE-991","amp":72.4},{"cell":"c4","i":2,"cond":"XE - DC","amp":78.2}
 ],
 "pText":[{"cond":"Control","amp":113.6}]
},
"spacing":6,
"vconcat":[
 {"bounds":"flush","spacing":42,"hconcat":[
 {"width":74,"height":147,"title":{"text":"Soma","offset":8,"dx":6,"dy":29},
  "resolve":{"scale":{"y":"independent"}},
  "encoding":{"x":{"field":"t","type":"quantitative","scale":{"domain":[24,98],"nice":false,"zero":false},"axis":null}},
  "layer":[
   {"data":{"name":"aSomaV"},"mark":{"type":"line","strokeWidth":1.4,"interpolate":"monotone","clip":false},
    "encoding":{"y":{"field":"v","type":"quantitative","scale":{"domain":[-74,73],"nice":false,"zero":false},"axis":null},
     "color":{"field":"s","type":"nominal","legend":null,"scale":{"domain":["-95","-75","-65","-76","-66","k","g","Control","XE","XE - DC","1st","2nd","Soma","Axon","RMP","XE-991"],"range":["#1fb1d9","#222222","#9b9b9b","#222222","#9b9b9b","#222222","#999999","#222222","#e8404a","#1fb1d9","#aaaaaa","#333333","#aaaaaa","#333333","#222222","#e8404a"]}}}},
   {"data":{"name":"aSomaVLab"},"mark":{"type":"text","fontSize":13,"clip":false},
    "encoding":{"y":{"field":"v","type":"quantitative","scale":{"domain":[-74,73],"nice":false,"zero":false},"axis":null},"text":{"field":"label"},
     "color":{"field":"s","type":"nominal","legend":null,"scale":{"domain":["-95","-75","-65","-76","-66","k","g","Control","XE","XE - DC","1st","2nd","Soma","Axon","RMP","XE-991"],"range":["#1fb1d9","#222222","#9b9b9b","#222222","#9b9b9b","#222222","#999999","#222222","#e8404a","#1fb1d9","#aaaaaa","#333333","#aaaaaa","#333333","#222222","#e8404a"]}}}},
   {"data":{"name":"aLetter"},"mark":{"type":"text","align":"left","baseline":"alphabetic","fontSize":22,"fontWeight":"bold","color":"#000000","clip":false},
    "encoding":{"y":{"field":"v","type":"quantitative","scale":{"domain":[-74,73],"nice":false,"zero":false},"axis":null},"text":{"field":"label"}}},
   {"data":{"name":"aSomaD"},"mark":{"type":"line","strokeWidth":1.4,"interpolate":"monotone","clip":false},
    "encoding":{"y":{"field":"v","type":"quantitative","scale":{"domain":[0,147],"nice":false,"zero":false},"axis":null},
     "color":{"field":"s","type":"nominal","legend":null,"scale":{"domain":["-95","-75","-65","-76","-66","k","g","Control","XE","XE - DC","1st","2nd","Soma","Axon","RMP","XE-991"],"range":["#1fb1d9","#222222","#9b9b9b","#222222","#9b9b9b","#222222","#999999","#222222","#e8404a","#1fb1d9","#aaaaaa","#333333","#aaaaaa","#333333","#222222","#e8404a"]}}}},
   {"data":{"name":"aSomaMk"},"transform":[{"filter":"datum.k == '1st'"}],"mark":{"type":"point","shape":"circle","filled":false,"color":"#a0a0a0","size":20,"strokeWidth":1,"clip":false},
    "encoding":{"y":{"field":"v","type":"quantitative","scale":{"domain":[0,147],"nice":false,"zero":false},"axis":null}}},
   {"data":{"name":"aSomaMk"},"transform":[{"filter":"datum.k == '2nd'"}],"mark":{"type":"circle","color":"#111111","size":22,"opacity":1,"clip":false},
    "encoding":{"y":{"field":"v","type":"quantitative","scale":{"domain":[0,147],"nice":false,"zero":false},"axis":null}}},
   {"data":{"name":"aSomaBar"},"mark":{"type":"rule","color":"#555555","strokeWidth":1.2,"clip":false},
    "encoding":{"x":{"field":"t1","type":"quantitative"},"x2":{"field":"t2"},"y":{"field":"v1","type":"quantitative","scale":{"domain":[0,147],"nice":false,"zero":false},"axis":null},"y2":{"field":"v2"}}},
   {"data":{"name":"aSomaDLab"},"mark":{"type":"text","fontSize":13,"color":"#222222","clip":false},
    "encoding":{"y":{"field":"v","type":"quantitative","scale":{"domain":[0,147],"nice":false,"zero":false},"axis":null},"text":{"field":"label"}}}
  ]},
 {"width":156,"height":147,"title":{"text":"Axon","offset":8,"dx":20},
  "resolve":{"scale":{"y":"independent"}},
  "encoding":{"x":{"field":"t","type":"quantitative","scale":{"domain":[0,156],"nice":false,"zero":false},"axis":null}},
  "layer":[
   {"data":{"name":"aAxonV"},"mark":{"type":"line","strokeWidth":1.4,"interpolate":"monotone","clip":false},
    "encoding":{"y":{"field":"v","type":"quantitative","scale":{"domain":[-74,73],"nice":false,"zero":false},"axis":null},
     "color":{"field":"s","type":"nominal","legend":null,"scale":{"domain":["-95","-75","-65","-76","-66","k","g","Control","XE","XE - DC","1st","2nd","Soma","Axon","RMP","XE-991"],"range":["#1fb1d9","#222222","#9b9b9b","#222222","#9b9b9b","#222222","#999999","#222222","#e8404a","#1fb1d9","#aaaaaa","#333333","#aaaaaa","#333333","#222222","#e8404a"]}}}},
   {"data":{"name":"aAxonVLab"},"mark":{"type":"text","fontSize":13,"clip":false},
    "encoding":{"y":{"field":"v","type":"quantitative","scale":{"domain":[-74,73],"nice":false,"zero":false},"axis":null},"text":{"field":"label"},
     "color":{"field":"s","type":"nominal","legend":null,"scale":{"domain":["-95","-75","-65","-76","-66","k","g","Control","XE","XE - DC","1st","2nd","Soma","Axon","RMP","XE-991"],"range":["#1fb1d9","#222222","#9b9b9b","#222222","#9b9b9b","#222222","#999999","#222222","#e8404a","#1fb1d9","#aaaaaa","#333333","#aaaaaa","#333333","#222222","#e8404a"]}}}},
   {"data":{"name":"aAxonVBar"},"mark":{"type":"rule","color":"#555555","strokeWidth":1.2,"clip":false},
    "encoding":{"x":{"field":"t1","type":"quantitative"},"x2":{"field":"t2"},"y":{"field":"v1","type":"quantitative","scale":{"domain":[-74,73],"nice":false,"zero":false},"axis":null},"y2":{"field":"v2"}}},
   {"data":{"name":"aAxonD"},"mark":{"type":"line","strokeWidth":1.4,"interpolate":"monotone","clip":false},
    "encoding":{"y":{"field":"v","type":"quantitative","scale":{"domain":[0,147],"nice":false,"zero":false},"axis":null},
     "color":{"field":"s","type":"nominal","legend":null,"scale":{"domain":["-95","-75","-65","-76","-66","k","g","Control","XE","XE - DC","1st","2nd","Soma","Axon","RMP","XE-991"],"range":["#1fb1d9","#222222","#9b9b9b","#222222","#9b9b9b","#222222","#999999","#222222","#e8404a","#1fb1d9","#aaaaaa","#333333","#aaaaaa","#333333","#222222","#e8404a"]}}}},
   {"data":{"name":"aAxonMk"},"transform":[{"filter":"datum.k == '1st'"}],"mark":{"type":"point","shape":"circle","filled":false,"color":"#a0a0a0","size":20,"strokeWidth":1,"clip":false},
    "encoding":{"y":{"field":"v","type":"quantitative","scale":{"domain":[0,147],"nice":false,"zero":false},"axis":null}}},
   {"data":{"name":"aAxonMk"},"transform":[{"filter":"datum.k == '2nd'"}],"mark":{"type":"circle","color":"#111111","size":22,"opacity":1,"clip":false},
    "encoding":{"y":{"field":"v","type":"quantitative","scale":{"domain":[0,147],"nice":false,"zero":false},"axis":null}}},
   {"data":{"name":"aAxonDBar"},"mark":{"type":"rule","color":"#555555","strokeWidth":1.2,"clip":false},
    "encoding":{"x":{"field":"t1","type":"quantitative"},"x2":{"field":"t2"},"y":{"field":"v1","type":"quantitative","scale":{"domain":[0,147],"nice":false,"zero":false},"axis":null},"y2":{"field":"v2"}}}
  ]},
 {"width":100,"height":139,"title":{"text":"Soma","offset":8,"dx":24,"dy":29},
  "encoding":{"x":{"field":"mv","type":"quantitative","scale":{"domain":[-100,-40],"nice":false,"zero":false},
                   "axis":{"values":[-100,-90,-80,-70,-60,-50,-40],"labelExpr":"datum.value % 20 === 0 ? datum.label : ''","offset":8,"labelFontSize":11,"title":"Membrane potential (mV)","titleX":132,"titlePadding":8}},
              "y":{"field":"r","type":"quantitative","scale":{"domain":[0,1.07],"nice":false,"zero":false},
                   "axis":{"values":[0,0.2,0.4,0.6,0.8,1],"format":".1f","offset":1,"title":"AP dV/dt (normalized)","titlePadding":12}}},
  "layer":[
   {"data":{"name":"bSomaFit"},"mark":{"type":"line","strokeWidth":1,"interpolate":"monotone"},
    "encoding":{"color":{"field":"s","type":"nominal","legend":null,"scale":{"domain":["-95","-75","-65","-76","-66","k","g","Control","XE","XE - DC","1st","2nd","Soma","Axon","RMP","XE-991"],"range":["#1fb1d9","#222222","#9b9b9b","#222222","#9b9b9b","#222222","#999999","#222222","#e8404a","#1fb1d9","#aaaaaa","#333333","#aaaaaa","#333333","#222222","#e8404a"]}}}},
   {"data":{"name":"bSomaPts"},"transform":[{"filter":"datum.k == '1st'"}],"mark":{"type":"point","shape":"circle","filled":false,"color":"#a8a8a8","size":22,"strokeWidth":1}},
   {"data":{"name":"bSomaPts"},"transform":[{"filter":"datum.k == '2nd'"}],"mark":{"type":"circle","color":"#111111","size":24,"opacity":1}},
   {"data":{"name":"bSomaLab"},"mark":{"type":"text","align":"left","baseline":"middle","fontSize":13},
    "encoding":{"text":{"field":"n"},"color":{"field":"s","type":"nominal","legend":null,"scale":{"domain":["-95","-75","-65","-76","-66","k","g","Control","XE","XE - DC","1st","2nd","Soma","Axon","RMP","XE-991"],"range":["#1fb1d9","#222222","#9b9b9b","#222222","#9b9b9b","#222222","#999999","#222222","#e8404a","#1fb1d9","#aaaaaa","#333333","#aaaaaa","#333333","#222222","#e8404a"]}}}},
   {"data":{"name":"bSomaLab"},"mark":{"type":"text","align":"left","baseline":"middle","fontSize":8,"dx":7.5,"dy":-4},
    "encoding":{"text":{"field":"sup"},"color":{"field":"s","type":"nominal","legend":null,"scale":{"domain":["-95","-75","-65","-76","-66","k","g","Control","XE","XE - DC","1st","2nd","Soma","Axon","RMP","XE-991"],"range":["#1fb1d9","#222222","#9b9b9b","#222222","#9b9b9b","#222222","#999999","#222222","#e8404a","#1fb1d9","#aaaaaa","#333333","#aaaaaa","#333333","#222222","#e8404a"]}}}},
   {"data":{"name":"bLetter"},"mark":{"type":"text","align":"left","baseline":"alphabetic","fontSize":22,"fontWeight":"bold","color":"#000000","clip":false},
    "encoding":{"text":{"field":"label"}}}
  ]},
 {"width":107,"height":139,"title":{"text":"Axon","offset":8,"dx":35},
  "encoding":{"x":{"field":"mv","type":"quantitative","scale":{"domain":[-100,-40],"nice":false,"zero":false},
                   "axis":{"values":[-100,-90,-80,-70,-60,-50,-40],"labelExpr":"datum.value % 20 === 0 ? datum.label : ''","offset":8,"labelFontSize":11,"title":null}},
              "y":{"field":"r","type":"quantitative","scale":{"domain":[0,1.07],"nice":false,"zero":false},
                   "axis":{"values":[0,0.2,0.4,0.6,0.8,1],"format":".1f","offset":1,"title":null}}},
  "layer":[
   {"data":{"name":"bAxonFit"},"mark":{"type":"line","strokeWidth":1,"interpolate":"monotone"},
    "encoding":{"color":{"field":"s","type":"nominal","legend":null,"scale":{"domain":["-95","-75","-65","-76","-66","k","g","Control","XE","XE - DC","1st","2nd","Soma","Axon","RMP","XE-991"],"range":["#1fb1d9","#222222","#9b9b9b","#222222","#9b9b9b","#222222","#999999","#222222","#e8404a","#1fb1d9","#aaaaaa","#333333","#aaaaaa","#333333","#222222","#e8404a"]}}}},
   {"data":{"name":"bAxonPts"},"transform":[{"filter":"datum.k == '1st'"}],"mark":{"type":"point","shape":"circle","filled":false,"color":"#a8a8a8","size":22,"strokeWidth":1}},
   {"data":{"name":"bAxonPts"},"transform":[{"filter":"datum.k == '2nd'"}],"mark":{"type":"circle","color":"#111111","size":24,"opacity":1}},
   {"data":{"name":"bAxonLab"},"mark":{"type":"text","align":"left","baseline":"middle","fontSize":13},
    "encoding":{"text":{"field":"n"},"color":{"field":"s","type":"nominal","legend":null,"scale":{"domain":["-95","-75","-65","-76","-66","k","g","Control","XE","XE - DC","1st","2nd","Soma","Axon","RMP","XE-991"],"range":["#1fb1d9","#222222","#9b9b9b","#222222","#9b9b9b","#222222","#999999","#222222","#e8404a","#1fb1d9","#aaaaaa","#333333","#aaaaaa","#333333","#222222","#e8404a"]}}}},
   {"data":{"name":"bAxonLab"},"mark":{"type":"text","align":"left","baseline":"middle","fontSize":8,"dx":7.5,"dy":-4},
    "encoding":{"text":{"field":"sup"},"color":{"field":"s","type":"nominal","legend":null,"scale":{"domain":["-95","-75","-65","-76","-66","k","g","Control","XE","XE - DC","1st","2nd","Soma","Axon","RMP","XE-991"],"range":["#1fb1d9","#222222","#9b9b9b","#222222","#9b9b9b","#222222","#999999","#222222","#e8404a","#1fb1d9","#aaaaaa","#333333","#aaaaaa","#333333","#222222","#e8404a"]}}}}
  ]}
 ]},
 {"bounds":"flush","spacing":42,"hconcat":[
 {"width":137,"height":141,"title":{"text":"C","fontSize":22,"fontWeight":"bold","color":"#000000","offset":17,"dx":-66,"dy":25},
  "encoding":{"x":{"field":"mv","type":"quantitative","scale":{"domain":[-100,-40],"nice":false,"zero":false},
                   "axis":{"values":[-100,-90,-80,-70,-60,-50,-40],"labelExpr":"datum.value % 20 === 0 ? datum.label : ''","offset":6,"title":"Membrane potential (mV)","titleX":80,"titlePadding":3}},
              "y":{"field":"r","type":"quantitative","scale":{"domain":[0,1.06],"nice":false,"zero":false},
                   "axis":{"values":[0,0.2,0.4,0.6,0.8,1],"format":".1f","offset":6,"title":"AP amplitude (normalized)","titlePadding":4}}},
  "layer":[
   {"data":{"name":"cFit"},"mark":{"type":"line","strokeWidth":1,"interpolate":"monotone"},
    "encoding":{"color":{"field":"s","type":"nominal","legend":null,"scale":{"domain":["-95","-75","-65","-76","-66","k","g","Control","XE","XE - DC","1st","2nd","Soma","Axon","RMP","XE-991"],"range":["#1fb1d9","#222222","#9b9b9b","#222222","#9b9b9b","#222222","#999999","#222222","#e8404a","#1fb1d9","#aaaaaa","#333333","#aaaaaa","#333333","#222222","#e8404a"]}}}},
   {"data":{"name":"cLines"},"mark":{"type":"rule","strokeDash":[2,2],"strokeWidth":1.2,"clip":false},
    "encoding":{"y":{"field":"y1","type":"quantitative"},"y2":{"field":"y2"},
                "color":{"field":"s","type":"nominal","legend":null,"scale":{"domain":["-95","-75","-65","-76","-66","k","g","Control","XE","XE - DC","1st","2nd","Soma","Axon","RMP","XE-991"],"range":["#1fb1d9","#222222","#9b9b9b","#222222","#9b9b9b","#222222","#999999","#222222","#e8404a","#1fb1d9","#aaaaaa","#333333","#aaaaaa","#333333","#222222","#e8404a"]}}}},
   {"data":{"name":"cPts"},"transform":[{"filter":"datum.k == 'Soma'"}],"mark":{"type":"point","shape":"circle","filled":false,"color":"#a8a8a8","size":22,"strokeWidth":1}},
   {"data":{"name":"cPts"},"transform":[{"filter":"datum.k == 'Axon'"}],"mark":{"type":"circle","color":"#111111","size":24,"opacity":1}},
   {"data":{"name":"cLabs"},"mark":{"type":"text","fontSize":13,"clip":false},
    "encoding":{"text":{"field":"label"},"color":{"field":"s","type":"nominal","legend":null,"scale":{"domain":["-95","-75","-65","-76","-66","k","g","Control","XE","XE - DC","1st","2nd","Soma","Axon","RMP","XE-991"],"range":["#1fb1d9","#222222","#9b9b9b","#222222","#9b9b9b","#222222","#999999","#222222","#e8404a","#1fb1d9","#aaaaaa","#333333","#aaaaaa","#333333","#222222","#e8404a"]}}}}
  ]},
 {"width":250,"height":165,"title":{"text":"D","fontSize":22,"fontWeight":"bold","color":"#000000","offset":17,"dx":-5,"dy":11},
  "resolve":{"scale":{"y":"independent"}},
  "encoding":{"x":{"field":"t","type":"quantitative","scale":{"domain":[-42,208],"nice":false,"zero":false},"axis":null}},
  "layer":[
   {"data":{"name":"dV"},"mark":{"type":"line","strokeWidth":1.3,"interpolate":"monotone","clip":false},
    "encoding":{"y":{"field":"v","type":"quantitative","scale":{"domain":[-95,70],"nice":false,"zero":false},"axis":null},
     "color":{"field":"s","type":"nominal","legend":null,"scale":{"domain":["-95","-75","-65","-76","-66","k","g","Control","XE","XE - DC","1st","2nd","Soma","Axon","RMP","XE-991"],"range":["#1fb1d9","#222222","#9b9b9b","#222222","#9b9b9b","#222222","#999999","#222222","#e8404a","#1fb1d9","#aaaaaa","#333333","#aaaaaa","#333333","#222222","#e8404a"]}}}},
   {"data":{"name":"dVLab"},"mark":{"type":"text","fontSize":13,"clip":false},
    "encoding":{"y":{"field":"v","type":"quantitative","scale":{"domain":[-95,70],"nice":false,"zero":false},"axis":null},"text":{"field":"label"},
     "color":{"field":"s","type":"nominal","legend":null,"scale":{"domain":["-95","-75","-65","-76","-66","k","g","Control","XE","XE - DC","1st","2nd","Soma","Axon","RMP","XE-991"],"range":["#1fb1d9","#222222","#9b9b9b","#222222","#9b9b9b","#222222","#999999","#222222","#e8404a","#1fb1d9","#aaaaaa","#333333","#aaaaaa","#333333","#222222","#e8404a"]}}}},
   {"data":{"name":"dVBar"},"mark":{"type":"rule","color":"#555555","strokeWidth":1.2,"clip":false},
    "encoding":{"x":{"field":"t1","type":"quantitative"},"x2":{"field":"t2"},"y":{"field":"v1","type":"quantitative","scale":{"domain":[-95,70],"nice":false,"zero":false},"axis":null},"y2":{"field":"v2"}}},
   {"data":{"name":"dD"},"mark":{"type":"line","strokeWidth":1.3,"interpolate":"monotone","clip":false},
    "encoding":{"y":{"field":"v","type":"quantitative","scale":{"domain":[0,165],"nice":false,"zero":false},"axis":null},
     "color":{"field":"s","type":"nominal","legend":null,"scale":{"domain":["-95","-75","-65","-76","-66","k","g","Control","XE","XE - DC","1st","2nd","Soma","Axon","RMP","XE-991"],"range":["#1fb1d9","#222222","#9b9b9b","#222222","#9b9b9b","#222222","#999999","#222222","#e8404a","#1fb1d9","#aaaaaa","#333333","#aaaaaa","#333333","#222222","#e8404a"]}}}},
   {"data":{"name":"dDLab"},"mark":{"type":"text","fontSize":13,"color":"#222222","clip":false},
    "encoding":{"y":{"field":"v","type":"quantitative","scale":{"domain":[0,165],"nice":false,"zero":false},"axis":null},"text":{"field":"label"}}},
   {"data":{"name":"dDBar"},"mark":{"type":"rule","color":"#555555","strokeWidth":1.2,"clip":false},
    "encoding":{"x":{"field":"t1","type":"quantitative"},"x2":{"field":"t2"},"y":{"field":"v1","type":"quantitative","scale":{"domain":[0,165],"nice":false,"zero":false},"axis":null},"y2":{"field":"v2"}}}
  ]},
 {"width":75,"height":125,
  "encoding":{"x":{"field":"cond","type":"nominal","sort":["Control","XE-991","XE - DC"],"scale":{"domain":["Control","XE-991","XE - DC"],"paddingInner":0,"paddingOuter":0},
                   "axis":{"title":null,"labelAngle":50,"labelAlign":"left","labelBaseline":"middle","tickBand":"extent","offset":3,"labelFontSize":12.5,"labelPadding":3}},
              "y":{"field":"amp","type":"quantitative","scale":{"domain":[58.5,120],"nice":false,"zero":false},
                   "axis":{"values":[60,70,80,90,100,110,120],"labelExpr":"datum.value % 20 === 0 ? datum.label : ''","title":"AP amplitude (mV)","offset":3,"titlePadding":5}}},
  "layer":[
   {"data":{"name":"bars"},"mark":{"type":"bar","size":10,"fill":"#e8e8e8","strokeWidth":1.5},
    "encoding":{"y2":{"datum":58.5},"stroke":{"field":"cond","type":"nominal","legend":null,"scale":{"domain":["Control","XE-991","XE - DC"],"range":["#222222","#e8404a","#1fb1d9"]}}}},
   {"data":{"name":"bars"},"mark":{"type":"rule","strokeWidth":1.2},
    "encoding":{"y":{"field":"amp","type":"quantitative"},"y2":{"field":"err"},"color":{"field":"cond","type":"nominal","legend":null,"scale":{"domain":["-95","-75","-65","-76","-66","k","g","Control","XE","XE - DC","1st","2nd","Soma","Axon","RMP","XE-991"],"range":["#1fb1d9","#222222","#9b9b9b","#222222","#9b9b9b","#222222","#999999","#222222","#e8404a","#1fb1d9","#aaaaaa","#333333","#aaaaaa","#333333","#222222","#e8404a"]}}}},
   {"data":{"name":"bars"},"mark":{"type":"tick","thickness":1.2,"size":6},
    "encoding":{"y":{"field":"err","type":"quantitative"},"color":{"field":"cond","type":"nominal","legend":null,"scale":{"domain":["-95","-75","-65","-76","-66","k","g","Control","XE","XE - DC","1st","2nd","Soma","Axon","RMP","XE-991"],"range":["#1fb1d9","#222222","#9b9b9b","#222222","#9b9b9b","#222222","#999999","#222222","#e8404a","#1fb1d9","#aaaaaa","#333333","#aaaaaa","#333333","#222222","#e8404a"]}}}},
   {"data":{"name":"cells"},"mark":{"type":"line","color":"#a5a5a5","strokeWidth":1},
    "encoding":{"detail":{"field":"cell"},"order":{"field":"i","type":"quantitative"}}},
   {"data":{"name":"cells"},"mark":{"type":"circle","color":"#999999","size":24,"opacity":1}},
   {"data":{"name":"pText"},"mark":{"type":"text","align":"left","baseline":"middle","fontSize":12.5,"fontStyle":"italic","dx":-7,"color":"#333333"},"encoding":{"text":{"value":"p"}}},
   {"data":{"name":"pText"},"mark":{"type":"text","align":"left","baseline":"middle","fontSize":12.5,"dx":3.5,"color":"#333333"},"encoding":{"text":{"value":"= 0.0013"}}}
  ]}
 ]}
]
}
